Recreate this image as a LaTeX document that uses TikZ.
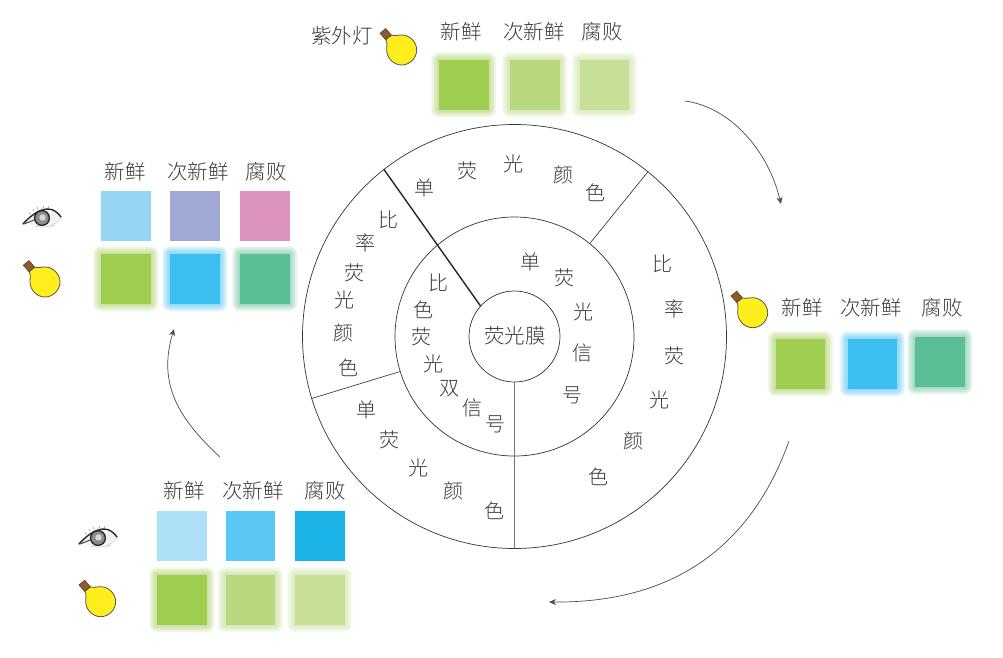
\documentclass[tikz,border=0pt]{standalone}
\usepackage{fontspec}
\setmainfont{Noto Sans CJK SC}[UprightFont=* Light]
\usetikzlibrary{arrows.meta}
\definecolor{txt}{HTML}{3A3A3A}
\definecolor{gA}{HTML}{9FCD50}
\definecolor{gB}{HTML}{B8D87E}
\definecolor{gC}{HTML}{C8DF97}
\definecolor{blu}{HTML}{3BBFF0}
\definecolor{tea}{HTML}{5BBF96}
\definecolor{skyA}{HTML}{95D5F2}
\definecolor{lav}{HTML}{A0A9D6}
\definecolor{pnk}{HTML}{DB92BB}
\definecolor{bA}{HTML}{AEE0F7}
\definecolor{bB}{HTML}{5AC8F5}
\definecolor{bC}{HTML}{1BB2E8}
\definecolor{bulbY}{HTML}{FFEE1E}
\definecolor{bulbC}{HTML}{8A5A30}
\tikzset{
  ch/.style={inner sep=0pt,text=txt,font=\fontsize{20}{20}\selectfont},
  lb/.style={inner sep=0pt,text=txt,font=\fontsize{20.5}{21}\selectfont},
  sq/.style={inner sep=0pt,minimum width=49.5pt,minimum height=49.5pt,anchor=north west},
  ring/.style={circle,draw=black!80,line width=0.7pt,inner sep=0pt},
  divider/.style={draw=black!75,line width=0.7pt},
  flow/.style={draw=black!70,line width=0.7pt,-{Stealth[length=7pt,width=6pt]}}
}
% name, x, y, colour: a square without glow
\newcommand{\plainsq}[4]{\node[sq,fill=#4] (#1) at (#2,#3) {};}
% name, x, y, colour: a square with a soft glow
\newcommand{\glowsq}[4]{%
  \foreach \g in {8,7,...,1}{%
    \fill[#4,opacity=0.09,rounded corners=\g pt] (#2-\g,#3-\g) rectangle (#2+49.5+\g,#3+49.5+\g);}%
  \node[sq,fill=#4] (#1) at (#2,#3) {};}
% x, y: a lamp
\newcommand{\lamp}[2]{%
  \begin{scope}[shift={(#1,#2)}]
    \draw[fill=bulbY,draw=black!75!yellow,line width=0.8pt]
      (-16,-10.5) .. controls (-14,-8) and (-15,-4) .. (-15,0)
      .. controls (-15,8) and (-8,15) .. (0,15)
      .. controls (8,15) and (15,8) .. (15,0)
      .. controls (15,-8) and (8,-15) .. (0,-15)
      .. controls (-3,-15) and (-7,-14) .. (-10.3,-14.8) -- cycle;
    \draw[fill=bulbC,draw=bulbC!70!black,line width=0.6pt,line join=round]
      (-21.7,-16.7) -- (-16,-21.5) -- (-10.3,-14.8) -- (-16,-10.3) -- cycle;
  \end{scope}}
% x, y: an eye
\newcommand{\eyeicon}[2]{%
  \begin{scope}[shift={(#1,#2)}]
    \draw[black!25,line width=0.5pt] (-7,8) .. controls (2,11) and (12,8) .. (19,0);
    \draw[pnk!70,line width=0.5pt] (8,9) -- (13,7);
    \fill[black!5] (-16,5) .. controls (-8,-8) and (8,-11) .. (18,-1) .. controls (10,8) and (-6,10) .. (-16,5);
    \draw[black!85,fill=black!45,line width=1.3pt] (0,0) circle (7.4);
    \fill[black!15] (0.5,-0.5) circle (3.2);
    \draw[black!85,line width=1.4pt,line cap=round] (-19,6) .. controls (-11,-3) and (-2,-9) .. (6,-9) .. controls (12,-9) and (16,-5) .. (19,-1);
    \draw[black!70,line width=1pt,line cap=round] (-18,6) -- (-8,2);
    \foreach \a/\b in {-12/-4,-8/-7,-4/-9,2/-10,7/-10}{\draw[black!60,line width=0.4pt] (\a,\b) -- +(-1,-2);}
  \end{scope}}
\begin{document}
\begin{tikzpicture}[x=1pt,y=-1pt]
\path[use as bounding box,fill=white] (0,0) rectangle (1003,657);

% rings
\coordinate (cen) at (514.5,336.5);
\node[ring,minimum size=424pt] (outer) at (cen) {};
\node[ring,minimum size=239pt] (mid) at (cen) {};
\node[ring,minimum size=91pt] (inner) at (cen) {};
\path[divider] (mid.51) -- (outer.51);
\path[divider] (mid.197.6) -- (outer.197.6);
\path[draw=black!55,line width=0.9pt] (inner.270) -- (outer.270);
\path[draw=black!85,line width=1.4pt] (inner.138) -- (outer.128.6);
\node[lb] (film) at (515,336) {荧光膜};

% ring characters
\foreach \x/\y/\t [count=\i] in {424/188/单,467/171/荧,513/164/光,563/175/颜,595/193/色,
  662/264/比,674/309/率,674/356/荧,659/400/光,633/441/颜,598/477/色,
  366/410/单,389/440/荧,418/468/光,453/491/颜,494/511/色,
  388/220/比,365/243/率,354/273/荧,344/300/光,343/333/颜,348/368/色,
  530/262/单,564/278/荧,583/312/光,582/353/信,572/395/号,
  438/283/比,423/310/色,421/337/荧,433/364/光,449/389/双,472/408/信,495/424/号}
  {\node[ch] (rc\i) at (\x,\y) {\t};}

% top group
\node[lb] (uvlamp) at (342,36) {紫外灯};
\lamp{401.7}{50}
\node[lb] (tA) at (461,32) {新鲜};
\node[lb] (tB) at (534,32) {次新鲜};
\node[lb] (tC) at (602,32) {腐败};
\glowsq{tsA}{439}{60}{gA}
\glowsq{tsB}{510}{60}{gB}
\glowsq{tsC}{579.5}{60}{gC}

% left group
\node[lb] (lA) at (125,172) {新鲜};
\node[lb] (lB) at (198,172) {次新鲜};
\node[lb] (lC) at (266,172) {腐败};
\eyeicon{42}{218}
\lamp{45}{282}
\plainsq{lsA}{101}{191}{skyA}
\plainsq{lsB}{170}{191}{lav}
\plainsq{lsC}{240}{191}{pnk}
\glowsq{lgA}{101}{254}{gA}
\glowsq{lgB}{170}{254}{blu}
\glowsq{lgC}{240}{254}{tea}

% right group
\lamp{752.7}{312.7}
\node[lb] (rA) at (802,308) {新鲜};
\node[lb] (rB) at (871,308) {次新鲜};
\node[lb] (rC) at (942,308) {腐败};
\glowsq{rsA}{775.5}{339}{gA}
\glowsq{rsB}{847.5}{339}{blu}
\glowsq{rsC}{915}{337}{tea}

% bottom group
\node[lb] (bA1) at (184,491) {新鲜};
\node[lb] (bB1) at (253,491) {次新鲜};
\node[lb] (bC1) at (325,491) {腐败};
\eyeicon{98}{538}
\lamp{100.7}{601.7}
\plainsq{bsA}{157}{511}{bA}
\plainsq{bsB}{225.5}{511}{bB}
\plainsq{bsC}{295}{511}{bC}
\glowsq{bgA}{157}{575}{gA}
\glowsq{bgB}{225.5}{575}{gB}
\glowsq{bgC}{295}{575}{gC}

% flow arrows
\coordinate (fa) at (685,101);
\coordinate (fb) at (781,204);
\coordinate (fc) at (789,441);
\coordinate (fd) at (549,602);
\coordinate (fe) at (220,457);
\coordinate (ff) at (174,329);
\path[flow] (fa) .. controls (730,107) and (768,150) .. (fb);
\path[flow] (fc) .. controls (750,550) and (670,603) .. (fd);
\path[flow] (fe) .. controls (180,420) and (157,385) .. (ff);
\end{tikzpicture}
\end{document}
